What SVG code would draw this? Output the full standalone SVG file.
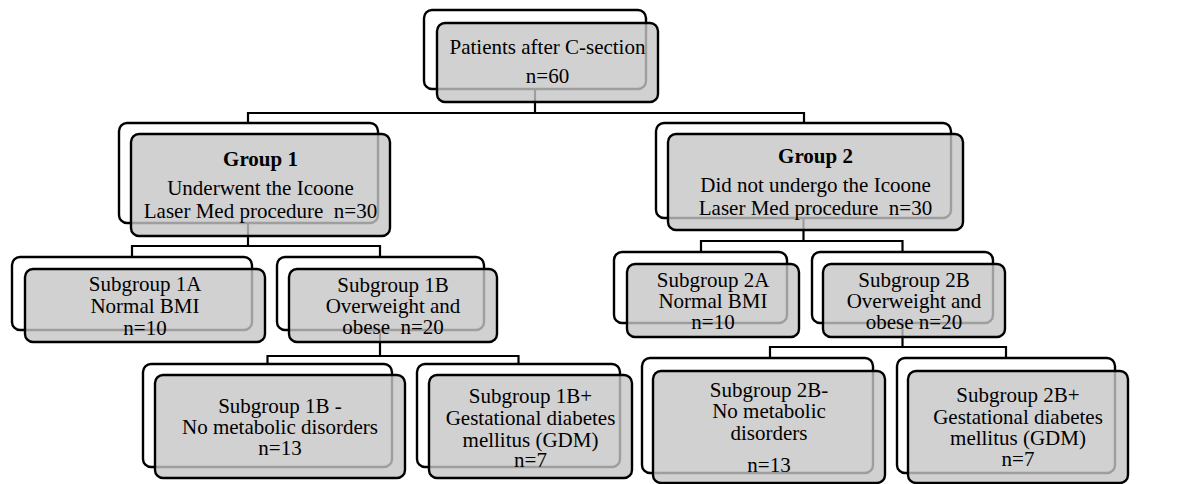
<svg xmlns="http://www.w3.org/2000/svg" width="1179" height="484" viewBox="0 0 1179 484" font-family="'Liberation Serif', 'Times New Roman', serif">
<style>
.back{fill:#ffffff;stroke:#000;stroke-width:2.4}
.front{fill:#c6c6c6;fill-opacity:0.8;stroke:#000;stroke-width:2.4}
.conn{fill:none;stroke:#000;stroke-width:2.2}
.t{font-family:'Liberation Serif','Times New Roman',serif;font-size:21px;fill:#000;text-anchor:middle;white-space:pre}
.b{font-weight:bold}
</style>
<rect width="1179" height="484" fill="#fff"/>
<g id="connectors">
<path class="conn" d="M535 89V113M248 123V113H804V123"/>
<path class="conn" d="M248 223V246M132 257V246H380V257"/>
<path class="conn" d="M380 330V356M267.5 364V356H518.5V364"/>
<path class="conn" d="M803.5 218V241M701 253V241H902.5V253"/>
<path class="conn" d="M902.5 323V347M770 358V347H1006V358"/>
</g>
<g id="node-top">
<rect class="back" x="424" y="10" width="222" height="79" rx="8"/>
<rect class="front" x="437" y="23" width="221" height="79" rx="8"/>
<text class="t" x="547.5" y="54">Patients after C-section</text>
<text class="t" x="547.5" y="83">n=60</text>
</g>
<g id="node-group1">
<rect class="back" x="119" y="123" width="259" height="100" rx="8"/>
<rect class="front" x="131" y="134" width="259" height="102" rx="8"/>
<text class="t b" x="260.5" y="166">Group 1</text>
<text class="t" x="260.5" y="195">Underwent the Icoone</text>
<text class="t" x="260.5" y="218">Laser Med procedure  n=30</text>
</g>
<g id="node-group2">
<rect class="back" x="656" y="123" width="295" height="95" rx="8"/>
<rect class="front" x="668" y="134" width="295" height="96" rx="8"/>
<text class="t b" x="815.5" y="163">Group 2</text>
<text class="t" x="815.5" y="192">Did not undergo the Icoone</text>
<text class="t" x="815.5" y="215">Laser Med procedure  n=30</text>
</g>
<g id="node-1a">
<rect class="back" x="12" y="257" width="240" height="73" rx="8"/>
<rect class="front" x="25" y="269" width="240" height="73" rx="8"/>
<text class="t" x="145" y="291">Subgroup 1A</text>
<text class="t" x="145" y="313">Normal BMI</text>
<text class="t" x="145" y="335">n=10</text>
</g>
<g id="node-1b">
<rect class="back" x="277" y="257" width="207" height="73" rx="8"/>
<rect class="front" x="289" y="269" width="208" height="73" rx="8"/>
<text class="t" x="393" y="292">Subgroup 1B</text>
<text class="t" x="393" y="313">Overweight and</text>
<text class="t" x="393" y="334">obese  n=20</text>
</g>
<g id="node-1b-minus">
<rect class="back" x="143" y="364" width="249" height="103" rx="8"/>
<rect class="front" x="155" y="375" width="250" height="103" rx="8"/>
<text class="t" x="280" y="413">Subgroup 1B -</text>
<text class="t" x="280" y="434">No metabolic disorders</text>
<text class="t" x="280" y="455">n=13</text>
</g>
<g id="node-1b-plus">
<rect class="back" x="417" y="364" width="203" height="103" rx="8"/>
<rect class="front" x="429" y="375" width="203" height="103" rx="8"/>
<text class="t" x="530.5" y="403">Subgroup 1B+</text>
<text class="t" x="530.5" y="425">Gestational diabetes</text>
<text class="t" x="530.5" y="447">mellitus (GDM)</text>
<text class="t" x="530.5" y="467">n=7</text>
</g>
<g id="node-2a">
<rect class="back" x="614" y="252" width="173" height="71" rx="8"/>
<rect class="front" x="627" y="264" width="172" height="73" rx="8"/>
<text class="t" x="713" y="287">Subgroup 2A</text>
<text class="t" x="713" y="308">Normal BMI</text>
<text class="t" x="713" y="329">n=10</text>
</g>
<g id="node-2b">
<rect class="back" x="812" y="252" width="181" height="71" rx="8"/>
<rect class="front" x="823" y="264" width="182" height="73" rx="8"/>
<text class="t" x="914" y="287">Subgroup 2B</text>
<text class="t" x="914" y="308">Overweight and</text>
<text class="t" x="914" y="329">obese n=20</text>
</g>
<g id="node-2b-minus">
<rect class="back" x="642" y="358" width="231" height="115" rx="8"/>
<rect class="front" x="653" y="371" width="232" height="112" rx="8"/>
<text class="t" x="769" y="397">Subgroup 2B-</text>
<text class="t" x="769" y="418">No metabolic</text>
<text class="t" x="769" y="440">disorders</text>
<text class="t" x="769" y="472">n=13</text>
</g>
<g id="node-2b-plus">
<rect class="back" x="897" y="358" width="218" height="115" rx="8"/>
<rect class="front" x="908" y="371" width="220" height="112" rx="8"/>
<text class="t" x="1018" y="402">Subgroup 2B+</text>
<text class="t" x="1018" y="424">Gestational diabetes</text>
<text class="t" x="1018" y="445">mellitus (GDM)</text>
<text class="t" x="1018" y="466">n=7</text>
</g>
</svg>
